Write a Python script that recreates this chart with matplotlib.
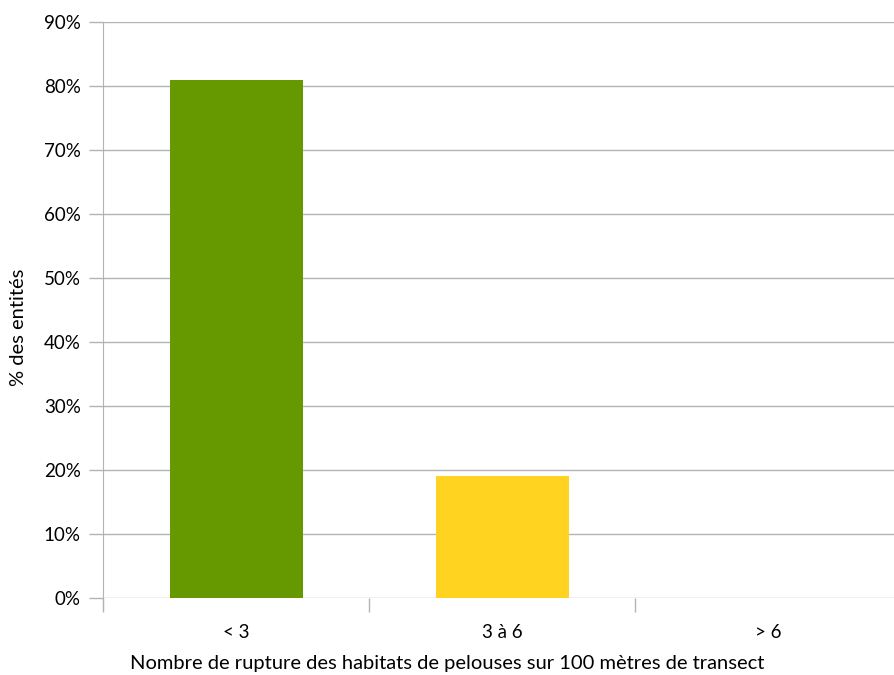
import numpy as np
import matplotlib.pyplot as plt

categories = ['< 3', '3 à 6', '> 6']
values = [81, 19, 0]
colors = ['#669900', '#ffd320', '#004586']

plt.rcParams['font.family'] = ['Lato', 'DejaVu Sans']

fig = plt.figure(figsize=(8.94, 6.75), dpi=100)
ax = fig.add_axes([103 / 894, 1 - 598 / 675, (901 - 103) / 894, (598 - 22) / 675])

pos = np.arange(len(categories)) + 0.5
ax.bar(pos, values, width=0.5, color=colors, zorder=3)

ax.set_xlim(0, 3)
ax.set_ylim(0, 90)
ax.set_yticks(np.arange(0, 91, 10))
ax.set_yticklabels([f'{v}%' for v in range(0, 91, 10)], fontsize=13.5)
ax.yaxis.grid(True, color='#b3b3b3', linewidth=1, zorder=0)

ax.set_xticks([0, 1, 2, 3])
ax.set_xticklabels([])
ax.set_xticks(pos, minor=True)
ax.set_xticklabels(categories, minor=True, fontsize=13.5)
ax.tick_params(axis='x', which='major', length=10, color='#b3b3b3', width=1)
ax.tick_params(axis='x', which='minor', length=0, pad=19)
ax.tick_params(axis='y', length=10, color='#b3b3b3', width=1, pad=6)

for s in ['top', 'right', 'bottom']:
    ax.spines[s].set_visible(False)
ax.spines['left'].set_color('#b3b3b3')
ax.spines['left'].set_bounds(-1.5, 90)
ax.spines['left'].set_zorder(1)

ax.set_ylabel('% des entités', fontsize=14.5, va='center')
ax.yaxis.set_label_coords(-(103 - 19) / 798, (598 - 327) / 576)
ax.set_xlabel('Nombre de rupture des habitats de pelouses sur 100 mètres de transect',
              fontsize=14.5, va='center')
ax.xaxis.set_label_coords((447 - 103) / 798, -(664 - 598) / 576)

fig.savefig('out.png', dpi=100)
